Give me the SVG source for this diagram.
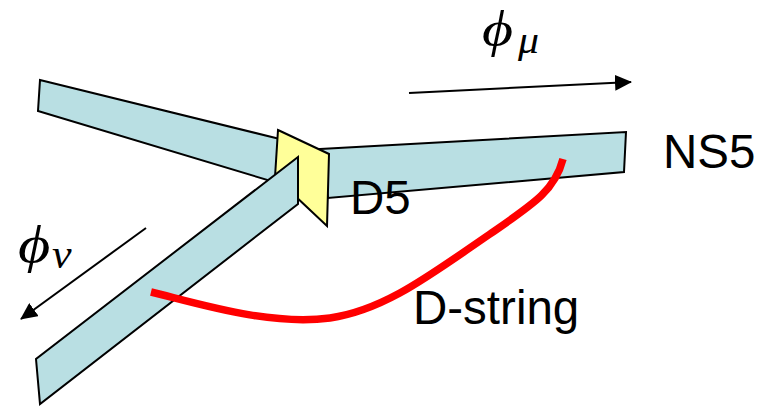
<svg xmlns="http://www.w3.org/2000/svg" width="768" height="407" viewBox="0 0 768 407">
<style>
.band{fill:#b9dfe3;stroke:#000;stroke-width:2;stroke-linejoin:miter}
.label{font-family:"Liberation Sans",Arial,sans-serif;font-size:47.5px;fill:#000}
.math{font-family:"Liberation Serif","DejaVu Serif",serif;font-style:italic;fill:#000}
.arrow{fill:none;stroke:#000;stroke-width:2}
</style>
<defs>
<marker id="head" markerUnits="userSpaceOnUse" markerWidth="18" markerHeight="16" refX="16" refY="8" orient="auto"><path d="M0 0L17 8L0 16z" fill="#000"/></marker>
</defs>
<g id="band-left"><polygon class="band" points="40,80 284,140 284,185 38,111"/></g>
<g id="band-right"><polygon class="band" points="320,149 626,132 624,172 328,198"/></g>
<g id="d5"><polygon points="278,130 329,154 327,226 275,177" fill="#ffff99" stroke="#000" stroke-width="2"/></g>
<g id="band-lower"><polygon class="band" points="298,157 298,204 40,404 36,359"/></g>
<g id="connectors">
<path class="arrow" d="M409 93L631 82" marker-end="url(#head)"/>
<path class="arrow" d="M146 228L21 319" marker-end="url(#head)"/>
<path id="d-string" d="M151 292C200 304 270 326 330 318C385 310 430 275 490 234C535 203 555 190 563 159" fill="none" stroke="#f00" stroke-width="7.5"/>
</g>
<g id="labels">
<text class="label" x="663" y="168">NS5</text>
<text class="label" x="350" y="214">D5</text>
<text class="label" x="413" y="324">D-string</text>
<text class="math" transform="translate(482 46) scale(1.2 1)" font-size="50">ϕ</text>
<text class="math" transform="translate(518 53) scale(1.1 1)" font-size="38">μ</text>
<text class="math" transform="translate(18 262) scale(1.2 1)" font-size="52">ϕ</text>
<text class="math" transform="translate(52 268) scale(1.1 1)" font-size="40">ν</text>
</g>
</svg>
